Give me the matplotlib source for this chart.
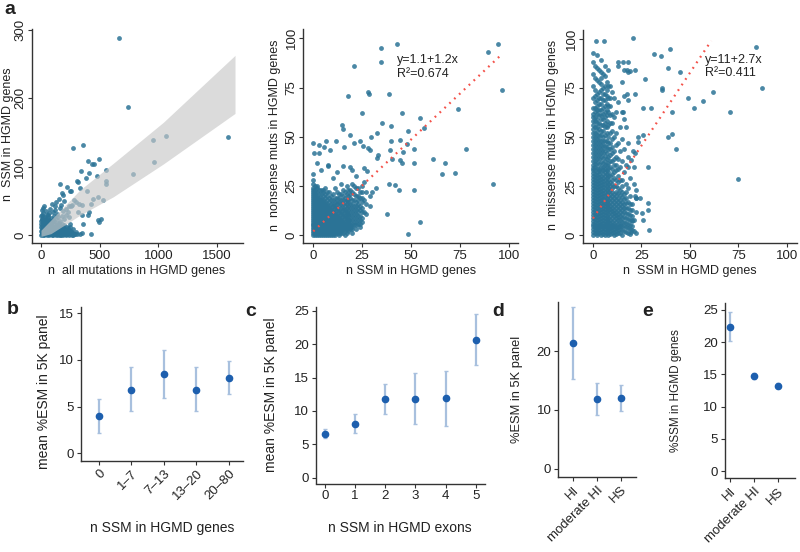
import matplotlib
matplotlib.use("Agg")
import matplotlib.pyplot as plt

plt.rcParams['font.family'] = ['Liberation Sans', 'DejaVu Sans']

W, H = 800, 552

# ---------------- panel a, left: n all mutations vs n SSM ----------------
a1_points = [
    (668, 288), (739, 188), (1593, 143), (1063, 145), (958, 139), (966, 107),
    (787, 89), (276, 128), (361, 132), (403, 108), (432, 104), (452, 104),
    (497, 111), (551, 95), (338, 94), (409, 91), (304, 79), (318, 77),
    (384, 83), (475, 86), (553, 79), (555, 75), (162, 74), (225, 71),
    (247, 65), (255, 64), (182, 61), (192, 59), (332, 69), (389, 65),
    (446, 53), (483, 55), (531, 51), (426, 45), (284, 51), (295, 49),
    (322, 46), (349, 44), (235, 43), (261, 44), (313, 33), (347, 30),
    (403, 29), (412, 33), (489, 22), (508, 24), (494, 19), (361, 16),
    (423, 2), (276, 0),
    # dense cluster near the origin
    (0, 0), (8, 1), (15, 0), (22, 2), (30, 0), (38, 1), (45, 3), (52, 0),
    (60, 2), (68, 0), (75, 1), (82, 3), (90, 0), (98, 2), (105, 0), (112, 1),
    (120, 3), (128, 0), (135, 2), (142, 0), (150, 1), (158, 0), (165, 3),
    (172, 0), (180, 1), (190, 0), (200, 2), (210, 0), (222, 1), (235, 0),
    (248, 2), (262, 0), (280, 1), (300, 4),
    (5, 3), (12, 5), (18, 2), (25, 4), (33, 6), (42, 2), (48, 5), (55, 3),
    (63, 6), (72, 3), (78, 6), (85, 2), (93, 4), (102, 6), (108, 3),
    (116, 5), (124, 2), (132, 5), (138, 3), (146, 6), (154, 3), (162, 2),
    (168, 6), (176, 3), (185, 4), (195, 3), (205, 5), (215, 2), (228, 4),
    (242, 3), (255, 4), (270, 3), (290, 2), (310, 2), (330, 1), (350, 3),
    (0, 6), (10, 8), (20, 5), (30, 9), (40, 6), (50, 10), (60, 7), (70, 5),
    (80, 9), (90, 6), (100, 8), (110, 5), (120, 10), (130, 7), (140, 6),
    (150, 9), (160, 5), (175, 8), (190, 6), (205, 9), (220, 5), (240, 7),
    (260, 6),
    (5, 10), (3, 16), (6, 22), (4, 28), (10, 30), (15, 26), (18, 18),
    (25, 13), (35, 19), (45, 24), (55, 18), (65, 22), (72, 11), (85, 13),
    (95, 19), (105, 11), (115, 20), (125, 14), (140, 12), (155, 18),
    (170, 10), (185, 12), (200, 9), (230, 10), (250, 11), (270, 9),
    (8, 36), (15, 40), (30, 42), (50, 30), (70, 32),
    (0, 12), (8, 15), (18, 11), (28, 16), (38, 13), (48, 17), (58, 12),
    (70, 15), (82, 18), (95, 13), (108, 16), (120, 12), (135, 17), (150, 14),
    (165, 12), (180, 16), (200, 14), (220, 12), (245, 16),
    (0, 20), (12, 24), (25, 21), (38, 26), (50, 22), (62, 27), (75, 20),
    (88, 25), (100, 22), (115, 28), (130, 23), (145, 26), (160, 21),
    (178, 28), (195, 24), (215, 30), (240, 27),
    (20, 32), (40, 35), (60, 30), (80, 38), (100, 33), (120, 36), (140, 31),
    (160, 40), (185, 35), (210, 38), (230, 33), (260, 42),
    (90, 45), (130, 48), (150, 52), (170, 44), (200, 50), (120, 42),
]
a1_band_x = [0, 85, 333, 617, 1043, 1654]
a1_band_lo = [-2, 2, 29, 56, 104, 178]
a1_band_hi = [7, 22, 66, 105, 165, 263]

# ---------------- panel a, middle: n SSM vs n nonsense ----------------
a2_points = [
    (42.6, 96.9), (34.6, 94.9), (34.6, 87.8), (20.8, 86.1), (89.4, 92.9),
    (94.2, 96.9), (96.3, 73.7), (27.8, 72.9), (28.6, 72), (17.5, 70.8),
    (38.7, 71.7), (24.7, 61.9), (45.5, 61.9), (54.5, 59.7), (74.1, 63.9),
    (56.6, 54.7), (14.7, 55.8), (15.3, 54.1), (35.3, 56.8), (39.7, 55.4),
    (48.6, 52.9), (18.7, 50.8), (21, 46.9), (23.8, 48), (29.5, 49.7),
    (32.4, 52), (11.6, 48), (6.6, 48), (0, 47), (2.9, 45.8), (5.5, 44.9),
    (15.7, 44.9), (25.6, 45.3), (0.3, 41.9), (2.9, 41.9), (8.5, 43.2),
    (28, 44.4), (29, 43.2), (39.5, 48), (39.2, 43.2), (44.3, 48.6),
    (48, 46.3), (51.6, 43.9), (33.2, 40.7), (32.4, 39.5), (46, 42.4),
    (40, 39), (61.3, 39), (67.3, 36.8), (51.6, 36.8), (44.3, 38.1),
    (45.1, 36.8), (72.4, 31.7), (65.6, 31), (78, 44), (92, 25.9),
    (1.7, 36.8), (7.7, 35.9), (7.7, 35.1), (0, 31), (3.7, 33), (15.3, 35.3),
    (19, 34.7), (20, 33), (25.9, 34.2), (27.3, 32.7), (38.7, 25.9),
    (41.7, 25.3), (43.9, 22.9), (51.6, 22.9), (37.8, 11), (54.5, 6.8),
    (48.6, 0.8), (18.4, 7.6), (18.7, 4.2), (30, 22), (32, 24), (26, 27),
    (22, 30), (12, 32), (10, 29),
    # dense cluster
    (0, 0), (0, 2), (0, 4), (0, 6), (0, 8), (0, 10), (0, 12), (0, 14),
    (0, 16), (0, 18), (0, 20), (0, 22), (0, 24),
    (0, 1), (0, 3), (0, 5), (0, 7), (0, 9), (0, 11), (0, 13), (0, 15),
    (0, 17), (0, 19), (0, 21), (0, 23), (0, 26), (0, 28),
    (1, 1), (1, 3), (1, 5), (1, 7), (1, 9), (1, 11), (1, 13), (1, 15),
    (1, 17), (1, 19), (1, 21), (1, 23),
    (1, 0), (1, 2), (1, 4), (1, 6), (1, 8), (1, 10), (1, 12), (1, 14),
    (1, 16), (1, 18), (1, 20), (1, 22), (1, 25),
    (2, 0), (2, 2), (2, 4), (2, 6), (2, 8), (2, 10), (2, 12), (2, 14),
    (2, 16), (2, 18), (2, 20), (2, 25),
    (2, 1), (2, 3), (2, 5), (2, 7), (2, 9), (2, 11), (2, 13), (2, 15),
    (2, 17), (2, 19), (2, 22), (2, 24),
    (3, 1), (3, 3), (3, 5), (3, 7), (3, 9), (3, 11), (3, 13), (3, 15),
    (3, 17), (3, 19),
    (3, 0), (3, 2), (3, 4), (3, 6), (3, 8), (3, 10), (3, 12), (3, 14),
    (3, 16), (3, 18), (3, 21), (3, 23),
    (4, 0), (4, 2), (4, 4), (4, 6), (4, 8), (4, 10), (4, 12), (4, 14),
    (4, 16), (4, 18), (4, 21),
    (4, 1), (4, 3), (4, 5), (4, 7), (4, 9), (4, 11), (4, 13), (4, 15),
    (4, 17), (4, 19), (4, 23),
    (5, 1), (5, 3), (5, 5), (5, 7), (5, 9), (5, 11), (5, 13), (5, 15),
    (5, 17), (5, 20), (5, 23),
    (5, 0), (5, 2), (5, 4), (5, 6), (5, 8), (5, 10), (5, 12), (5, 14),
    (5, 16), (5, 18), (5, 22),
    (6, 0), (6, 2), (6, 4), (6, 6), (6, 8), (6, 10), (6, 12), (6, 14),
    (6, 16), (6, 19),
    (6, 1), (6, 3), (6, 5), (6, 7), (6, 9), (6, 11), (6, 13), (6, 15),
    (6, 17), (6, 21), (6, 24),
    (7, 1), (7, 3), (7, 5), (7, 7), (7, 9), (7, 11), (7, 13), (7, 15),
    (7, 18), (7, 22),
    (7, 0), (7, 2), (7, 4), (7, 6), (7, 8), (7, 10), (7, 12), (7, 14),
    (7, 16), (7, 20),
    (8, 0), (8, 2), (8, 4), (8, 6), (8, 8), (8, 10), (8, 12), (8, 14), (8, 17),
    (8, 1), (8, 3), (8, 5), (8, 7), (8, 9), (8, 11), (8, 13), (8, 15),
    (8, 19), (8, 22),
    (9, 1), (9, 3), (9, 5), (9, 7), (9, 9), (9, 11), (9, 13), (9, 16), (9, 20),
    (9, 0), (9, 2), (9, 4), (9, 6), (9, 8), (9, 10), (9, 12), (9, 14), (9, 18),
    (10, 0), (10, 2), (10, 4), (10, 6), (10, 8), (10, 10), (10, 12),
    (10, 15), (10, 18),
    (10, 1), (10, 3), (10, 5), (10, 7), (10, 9), (10, 11), (10, 13),
    (10, 16), (10, 21),
    (11, 1), (11, 3), (11, 5), (11, 7), (11, 9), (11, 11), (11, 14),
    (11, 17), (11, 24),
    (11, 0), (11, 2), (11, 4), (11, 6), (11, 8), (11, 10), (11, 12),
    (11, 15), (11, 19),
    (12, 2), (12, 4), (12, 6), (12, 8), (12, 10), (12, 13), (12, 16), (12, 19),
    (12, 1), (12, 3), (12, 5), (12, 7), (12, 9), (12, 11), (12, 14),
    (12, 17), (12, 22),
    (13, 1), (13, 3), (13, 5), (13, 7), (13, 9), (13, 12), (13, 15), (13, 21),
    (13, 0), (13, 2), (13, 4), (13, 6), (13, 8), (13, 10), (13, 13),
    (13, 17), (13, 19),
    (14, 2), (14, 4), (14, 6), (14, 8), (14, 11), (14, 14), (14, 18), (14, 26),
    (14, 1), (14, 3), (14, 5), (14, 7), (14, 9), (14, 12), (14, 16), (14, 21),
    (15, 3), (15, 5), (15, 7), (15, 10), (15, 13), (15, 16), (15, 20),
    (15, 1), (15, 4), (15, 6), (15, 8), (15, 11), (15, 14), (15, 18),
    (15, 23),
    (16, 2), (16, 4), (16, 6), (16, 9), (16, 12), (16, 15), (16, 22),
    (16, 0), (16, 3), (16, 5), (16, 7), (16, 10), (16, 13), (16, 17),
    (16, 19),
    (17, 3), (17, 5), (17, 8), (17, 11), (17, 14), (17, 18), (17, 25),
    (17, 1), (17, 4), (17, 6), (17, 9), (17, 12), (17, 16), (17, 21),
    (18, 4), (18, 7), (18, 10), (18, 13), (18, 17), (18, 20),
    (18, 2), (18, 5), (18, 8), (18, 11), (18, 15), (18, 18), (18, 23),
    (19, 5), (19, 8), (19, 12), (19, 16), (19, 19), (19, 23),
    (19, 3), (19, 6), (19, 10), (19, 14), (19, 21),
    (20, 3), (20, 6), (20, 10), (20, 14), (20, 18), (20, 26),
    (20, 1), (20, 4), (20, 8), (20, 12), (20, 16), (20, 22),
    (21, 7), (21, 11), (21, 15), (21, 21), (21, 5), (21, 9), (21, 13),
    (21, 18), (21, 25),
    (22, 5), (22, 9), (22, 13), (22, 17), (22, 24), (22, 3), (22, 7),
    (22, 11), (22, 15), (22, 20),
    (23, 8), (23, 12), (23, 16), (23, 20), (23, 6), (23, 10), (23, 14),
    (23, 18), (23, 24),
    (24, 6), (24, 10), (24, 15), (24, 22), (24, 4), (24, 8), (24, 13),
    (24, 19),
    (25, 9), (25, 14), (25, 19), (25, 25), (25, 7), (25, 12), (25, 17),
    (25, 22),
    (26, 12), (26, 18), (27, 11), (27, 16), (27, 22), (29, 15), (29, 20),
]
a2_fit_x = [0, 95.4]
a2_fit_y = [2, 91]
a2_eq = "y=1.1+1.2x"
a2_r2 = "R\u00b2=0.674"

# ---------------- panel a, right: n SSM vs n missense ----------------
a3_points = [
    (20.8, 100.2), (1.5, 99), (5.9, 99), (84.2, 95.9), (87.1, 74.9),
    (75, 28.9), (70.7, 62.9), (62.1, 73), (57, 68.2), (52.3, 64.8),
    (48.9, 69.9), (45, 82.9), (39.8, 94.8), (31.7, 92.1), (35.1, 91.2),
    (38.9, 85.4), (35.8, 75.2), (35.8, 73.8), (40.6, 62.9), (38.9, 50.2),
    (41, 51.8), (42.9, 43.9), (28.6, 34.9), (28.9, 2.7), (28.2, 16.3),
    (28.6, 12.9), (25.1, 11.2), (26, 7.8), (30, 64.8), (26, 64.8),
    (26.9, 79.8), (21.7, 71.9), (21.7, 84.1), (17.5, 84), (18.9, 83.8),
    (13, 88), (15.6, 88), (18.2, 88), (17.7, 72), (18.2, 69), (15.6, 63),
    (16.2, 59), (23.4, 50.2), (26, 51), (23.1, 47.6), (20.8, 43),
    (21.7, 42), (19.6, 38.5), (18.2, 35), (21.3, 26), (21.7, 20),
    (22.2, 19), (20, 7.8), (19.6, 1.5), (22, 23), (24, 19),
    # dense cluster
    (0, 0), (0, 3), (0, 6), (0, 9), (0, 12), (0, 15), (0, 18), (0, 21),
    (0, 24), (0, 27), (0, 30), (0, 33), (0, 36), (0, 40), (0, 44), (0, 48),
    (0, 52), (0, 56), (0, 60), (0, 65), (0, 70), (0, 76), (0, 82), (0, 88),
    (0, 93),
    (0, 1.5), (0, 4.5), (0, 7.5), (0, 10.5), (0, 13.5), (0, 16.5),
    (0, 19.5), (0, 22.5), (0, 25.5), (0, 28.5), (0, 31.5), (0, 34.5),
    (0, 38), (0, 42), (0, 46), (0, 50), (0, 54), (0, 58), (0, 62),
    (1, 1), (1, 4), (1, 7), (1, 10), (1, 13), (1, 16), (1, 19), (1, 22),
    (1, 25), (1, 28), (1, 31), (1, 35), (1, 38), (1, 42), (1, 46), (1, 50),
    (1, 55), (1, 58), (1, 63), (1, 68), (1, 74), (1, 80), (1, 86),
    (1, 2.5), (1, 5.5), (1, 8.5), (1, 11.5), (1, 14.5), (1, 17.5),
    (1, 20.5), (1, 23.5), (1, 26.5), (1, 29.5), (1, 33), (1, 36.5),
    (1, 40), (1, 44), (1, 48), (1, 52), (1, 60), (1, 65), (1, 71),
    (2, 0), (2, 2), (2, 5), (2, 8), (2, 11), (2, 14), (2, 17), (2, 20),
    (2, 23), (2, 26), (2, 29), (2, 32), (2, 37), (2, 41), (2, 45), (2, 49),
    (2, 53), (2, 57), (2, 62), (2, 66), (2, 72), (2, 79), (2, 85), (2, 92),
    (2, 1), (2, 3.5), (2, 6.5), (2, 9.5), (2, 12.5), (2, 15.5), (2, 18.5),
    (2, 21.5), (2, 24.5), (2, 27.5), (2, 30.5), (2, 34.5), (2, 39),
    (2, 43), (2, 47), (2, 51), (2, 55), (2, 59), (2, 64), (2, 69),
    (3, 1), (3, 4), (3, 7), (3, 10), (3, 13), (3, 16), (3, 19), (3, 22),
    (3, 25), (3, 28), (3, 31), (3, 34), (3, 39), (3, 43), (3, 47), (3, 51),
    (3, 54), (3, 61), (3, 67), (3, 73), (3, 78), (3, 84),
    (3, 2.5), (3, 5.5), (3, 8.5), (3, 11.5), (3, 14.5), (3, 17.5),
    (3, 20.5), (3, 23.5), (3, 26.5), (3, 29.5), (3, 32.5), (3, 36.5),
    (3, 41), (3, 45), (3, 49), (3, 57), (3, 64), (3, 70),
    (4, 0), (4, 3), (4, 6), (4, 9), (4, 12), (4, 15), (4, 18), (4, 21),
    (4, 24), (4, 27), (4, 30), (4, 35), (4, 40), (4, 44), (4, 48), (4, 53),
    (4, 59), (4, 64), (4, 70), (4, 77), (4, 83), (4, 89),
    (4, 1.5), (4, 4.5), (4, 7.5), (4, 10.5), (4, 13.5), (4, 16.5),
    (4, 19.5), (4, 22.5), (4, 25.5), (4, 28.5), (4, 32.5), (4, 37.5),
    (4, 42), (4, 46), (4, 51), (4, 56), (4, 61), (4, 67), (4, 74), (4, 80),
    (5, 2), (5, 5), (5, 8), (5, 11), (5, 14), (5, 17), (5, 20), (5, 23),
    (5, 26), (5, 29), (5, 33), (5, 37), (5, 42), (5, 46), (5, 50), (5, 56),
    (5, 62), (5, 69), (5, 75), (5, 82),
    (5, 0.5), (5, 3.5), (5, 6.5), (5, 9.5), (5, 12.5), (5, 15.5),
    (5, 18.5), (5, 21.5), (5, 24.5), (5, 27.5), (5, 31), (5, 35),
    (5, 39.5), (5, 44), (5, 48), (5, 53), (5, 59), (5, 65), (5, 72),
    (6, 0), (6, 3), (6, 6), (6, 9), (6, 12), (6, 15), (6, 18), (6, 22),
    (6, 26), (6, 30), (6, 34), (6, 38), (6, 43), (6, 48), (6, 55), (6, 60),
    (6, 66), (6, 72), (6, 81), (6, 86),
    (6, 1.5), (6, 4.5), (6, 7.5), (6, 10.5), (6, 13.5), (6, 16.5),
    (6, 20), (6, 24), (6, 28), (6, 32), (6, 36), (6, 40.5), (6, 45.5),
    (6, 51), (6, 57), (6, 63), (6, 69), (6, 76),
    (7, 1), (7, 4), (7, 7), (7, 10), (7, 14), (7, 17), (7, 21), (7, 25),
    (7, 29), (7, 33), (7, 39), (7, 45), (7, 52), (7, 58), (7, 64), (7, 71),
    (7, 78),
    (7, 2.5), (7, 5.5), (7, 8.5), (7, 12), (7, 15.5), (7, 19), (7, 23),
    (7, 27), (7, 31), (7, 36), (7, 42), (7, 48), (7, 55), (7, 61), (7, 67),
    (7, 74),
    (8, 0), (8, 3), (8, 6), (8, 9), (8, 13), (8, 16), (8, 20), (8, 24),
    (8, 28), (8, 32), (8, 37), (8, 44), (8, 50), (8, 63), (8, 70), (8, 84),
    (8, 1.5), (8, 4.5), (8, 7.5), (8, 11), (8, 14.5), (8, 18), (8, 22),
    (8, 26), (8, 30), (8, 34.5), (8, 40), (8, 47), (8, 56), (8, 66), (8, 76),
    (9, 2), (9, 5), (9, 8), (9, 12), (9, 15), (9, 19), (9, 23), (9, 27),
    (9, 35), (9, 41), (9, 47), (9, 57), (9, 66), (9, 76),
    (9, 0.5), (9, 3.5), (9, 6.5), (9, 10), (9, 13.5), (9, 17), (9, 21),
    (9, 25), (9, 30), (9, 38), (9, 44), (9, 52), (9, 61), (9, 70),
    (10, 1), (10, 4), (10, 7), (10, 11), (10, 14), (10, 18), (10, 22),
    (10, 26), (10, 31), (10, 38), (10, 45), (10, 53), (10, 62), (10, 73),
    (10, 2.5), (10, 5.5), (10, 9), (10, 12.5), (10, 16), (10, 20),
    (10, 24), (10, 28), (10, 34), (10, 42), (10, 49), (10, 57),
    (11, 0), (11, 3), (11, 6), (11, 10), (11, 13), (11, 17), (11, 21),
    (11, 29), (11, 36), (11, 43), (11, 60), (11, 70),
    (11, 1.5), (11, 4.5), (11, 8), (11, 11.5), (11, 15), (11, 19),
    (11, 25), (11, 32), (11, 39), (11, 50),
    (12, 2), (12, 5), (12, 9), (12, 12), (12, 16), (12, 20), (12, 25),
    (12, 33), (12, 40), (12, 52), (12, 63),
    (12, 0.5), (12, 3.5), (12, 7), (12, 10.5), (12, 14), (12, 18),
    (12, 22), (12, 28), (12, 36), (12, 46),
    (13, 1), (13, 4), (13, 8), (13, 11), (13, 15), (13, 19), (13, 24),
    (13, 30), (13, 39), (13, 47), (13, 68), (13, 86),
    (13, 2.5), (13, 6), (13, 9.5), (13, 13), (13, 17), (13, 21.5),
    (13, 27), (13, 34),
    (14, 3), (14, 6), (14, 10), (14, 14), (14, 18), (14, 23), (14, 35),
    (14, 43), (14, 55),
    (14, 1), (14, 4.5), (14, 8), (14, 12), (14, 16), (14, 20.5), (14, 28),
    (15, 0), (15, 5), (15, 9), (15, 13), (15, 17), (15, 22), (15, 28),
    (15, 38), (15, 49), (15, 63), (15, 78),
    (15, 2.5), (15, 7), (15, 11), (15, 15), (15, 19.5), (15, 25),
    (16, 2), (16, 7), (16, 12), (16, 16), (16, 21), (16, 32), (16, 44),
    (16, 71), (16, 84), (16, 4.5), (16, 9.5), (16, 14), (16, 18.5),
    (17, 4), (17, 9), (17, 14), (17, 19), (17, 26), (17, 36), (17, 55),
    (17, 1.5), (17, 6.5), (17, 11.5), (17, 16.5), (17, 22),
    (18, 1), (18, 6), (18, 11), (18, 17), (18, 24), (18, 40), (18, 47),
    (18, 83), (18, 3.5), (18, 8.5), (18, 14),
    (19, 3), (19, 8), (19, 13), (19, 20), (19, 29), (19, 0.5), (19, 5.5),
    (19, 10.5), (19, 16),
    (20, 5), (20, 10), (20, 16), (20, 2.5), (20, 7.5), (20, 13),
    (21, 2), (21, 8), (21, 35), (22, 1), (22, 12), (22, 19),
]
a3_fit_x = [0, 61]
a3_fit_y = [8.6, 99]
a3_eq = "y=11+2.7x"
a3_r2 = "R\u00b2=0.411"

# ---------------- panels b-e: mean with interval ----------------
b_labels = ["0", "1\u20137", "7\u201313", "13\u201320", "20\u201380"]
b_mean = [4.0, 6.8, 8.5, 6.8, 8.1]
b_lo = [2.2, 4.5, 5.9, 4.5, 6.3]
b_hi = [5.85, 9.2, 11.1, 9.2, 9.9]

c_labels = ["0", "1", "2", "3", "4", "5"]
c_mean = [6.6, 8.1, 11.8, 11.8, 11.9, 20.6]
c_lo = [5.9, 6.7, 9.5, 8.0, 7.8, 16.8]
c_hi = [7.3, 9.5, 14.1, 15.6, 16.0, 24.5]

d_labels = ["HI", "moderate HI", "HS"]
d_mean = [21.3, 11.9, 12.1]
d_lo = [15.2, 9.2, 9.9]
d_hi = [27.4, 14.5, 14.2]

e_labels = ["HI", "moderate HI", "HS"]
e_mean = [22.4, 14.75, 13.25]
e_lo = [20.2, 14.2, 12.9]
e_hi = [24.6, 15.2, 13.6]

PT_COL = "#2b7396"
MEAN_COL = "#1d5fae"
ERR_COL = "#a8c0de"
FIT_COL = "#f4524a"
TXT = "#222222"

fig = plt.figure(figsize=(8, 5.52), dpi=100)


def add_ax(l, t, r, b):
    ax = fig.add_axes([l / W, 1 - b / H, (r - l) / W, (b - t) / H])
    ax.patch.set_alpha(0)
    for s in ("top", "right"):
        ax.spines[s].set_visible(False)
    for s in ("left", "bottom"):
        ax.spines[s].set_color("#333333")
        ax.spines[s].set_linewidth(1.0)
    ax.tick_params(length=3, width=0.8, color="#333333", labelsize=9.5,
                   labelcolor=TXT, pad=2)
    return ax


def ftext(x, y, s, **kw):
    kw.setdefault("color", TXT)
    fig.text(x / W, 1 - y / H, s, **kw)


def scatter_panel(ax, pts):
    xs = [p[0] for p in pts]
    ys = [p[1] for p in pts]
    ax.scatter(xs, ys, s=12, color=PT_COL, alpha=0.85, linewidths=0,
               zorder=2)


def rot_yticks(ax):
    ax.tick_params(axis="y", pad=1)
    for lab in ax.get_yticklabels():
        lab.set_rotation(90)
        lab.set_va("center")


# a1
ax = add_ax(31.7, 29, 243, 243)
scatter_panel(ax, a1_points)
ax.fill_between(a1_band_x, a1_band_lo, a1_band_hi, color="#c8c8c8",
                alpha=0.65, linewidth=0, zorder=3)
ax.set_xlim(-79, 1722)
ax.set_ylim(-11.7, 301.6)
ax.set_xticks([0, 500, 1000, 1500])
ax.set_yticks([0, 100, 200, 300])
rot_yticks(ax)

# a2
ax = add_ax(303.3, 28.5, 518.3, 243)
scatter_panel(ax, a2_points)
ax.plot(a2_fit_x, a2_fit_y, color=FIT_COL, lw=1.6, ls=(0, (0.8, 2.2)),
        zorder=4)
ax.text(42.6, 89, a2_eq, fontsize=9, color=TXT, va="center")
ax.text(42.6, 81.9, a2_r2, fontsize=9, color=TXT, va="center")
ax.set_xlim(-5.1, 104.8)
ax.set_ylim(-3.9, 105)
ax.set_xticks([0, 25, 50, 75, 100])
ax.set_yticks([0, 25, 50, 75, 100])
rot_yticks(ax)

# a3
ax = add_ax(583.3, 30, 796.7, 243)
scatter_panel(ax, a3_points)
ax.plot(a3_fit_x, a3_fit_y, color=FIT_COL, lw=1.6, ls=(0, (0.8, 2.2)),
        zorder=4)
ax.text(57.8, 89.2, a3_eq, fontsize=9, color=TXT, va="center")
ax.text(57.8, 82.4, a3_r2, fontsize=9, color=TXT, va="center")
ax.set_xlim(-5.0, 105.1)
ax.set_ylim(-3.9, 104.5)
ax.set_xticks([0, 25, 50, 75, 100])
ax.set_yticks([0, 25, 50, 75, 100])
rot_yticks(ax)


def mean_panel(ax, mean, lo, hi):
    x = list(range(len(mean)))
    yerr = [[m - l for m, l in zip(mean, lo)], [h - m for m, h in zip(mean, hi)]]
    ax.errorbar(x, mean, yerr=yerr, fmt="none", ecolor=ERR_COL, elinewidth=1.6,
                capsize=1.2, capthick=1.0, zorder=2)
    ax.plot(x, mean, "o", color=MEAN_COL, ms=4.5, zorder=3)
    return x


# b
ax = add_ax(80.7, 306.7, 243.3, 460.7)
x = mean_panel(ax, b_mean, b_lo, b_hi)
ax.set_xlim(-0.56, 4.44)
ax.set_ylim(-0.8, 15.7)
ax.set_yticks([0, 5, 10, 15])
ax.set_xticks(x)
ax.set_xticklabels(b_labels, rotation=45, ha="right", va="top",
                   rotation_mode="anchor")

# c
ax = add_ax(316, 306.7, 485, 483.5)
x = mean_panel(ax, c_mean, c_lo, c_hi)
ax.set_xlim(-0.3, 5.31)
ax.set_ylim(-0.87, 25.6)
ax.set_yticks([0, 5, 10, 15, 20, 25])
ax.set_xticks(x)
ax.set_xticklabels(c_labels)

# d
ax = add_ax(558.3, 301.7, 636, 477)
x = mean_panel(ax, d_mean, d_lo, d_hi)
ax.set_xlim(-0.625, 2.65)
ax.set_ylim(-1.36, 28.36)
ax.set_yticks([0, 10, 20])
ax.set_xticks(x)
ax.set_xticklabels(d_labels, rotation=45, ha="right", va="top",
                   rotation_mode="anchor")

# e
ax = add_ax(725, 303.3, 795, 478.3)
x = mean_panel(ax, e_mean, e_lo, e_hi)
ax.set_xlim(-0.21, 2.73)
ax.set_ylim(-1.13, 26.0)
ax.set_yticks([0, 5, 10, 15, 20, 25])
ax.set_xticks(x)
ax.set_xticklabels(e_labels, rotation=45, ha="right", va="top",
                   rotation_mode="anchor")

# axis titles
top = dict(fontsize=9, ha="center", va="center")
ftext(137, 271, "n  all mutations in HGMD genes", **top)
ftext(411, 271, "n SSM in HGMD genes", **top)
ftext(690, 271, "n  SSM in HGMD genes", **top)
ftext(8, 134, "n  SSM in HGMD genes", rotation=90, **top)
ftext(275, 135, "n  nonsense muts in HGMD genes", rotation=90, **top)
ftext(553, 135, "n  missense muts in HGMD genes", rotation=90, **top)

bot = dict(fontsize=10, ha="center", va="center")
ftext(162, 528, "n SSM in HGMD genes", **bot)
ftext(400, 528, "n SSM in HGMD exons", **bot)
ftext(44, 392, "mean %ESM in 5K panel", rotation=90, **bot)
ftext(271, 395, "mean %ESM in 5K panel", rotation=90, **bot)
ftext(517, 389, "%ESM in 5K panel", rotation=90, fontsize=9.3,
      ha="center", va="center")
ftext(676, 391, "%SSM in HGMD genes", rotation=90, fontsize=8.5,
      ha="center", va="center")

# panel letters
let = dict(fontsize=14, fontweight="bold", ha="center", va="center")
ftext(10, 9, "a", **let)
ftext(13, 309, "b", **let)
ftext(251, 311, "c", **let)
ftext(498, 311, "d", **let)
ftext(648, 311, "e", **let)

fig.savefig("out.png", dpi=100)
